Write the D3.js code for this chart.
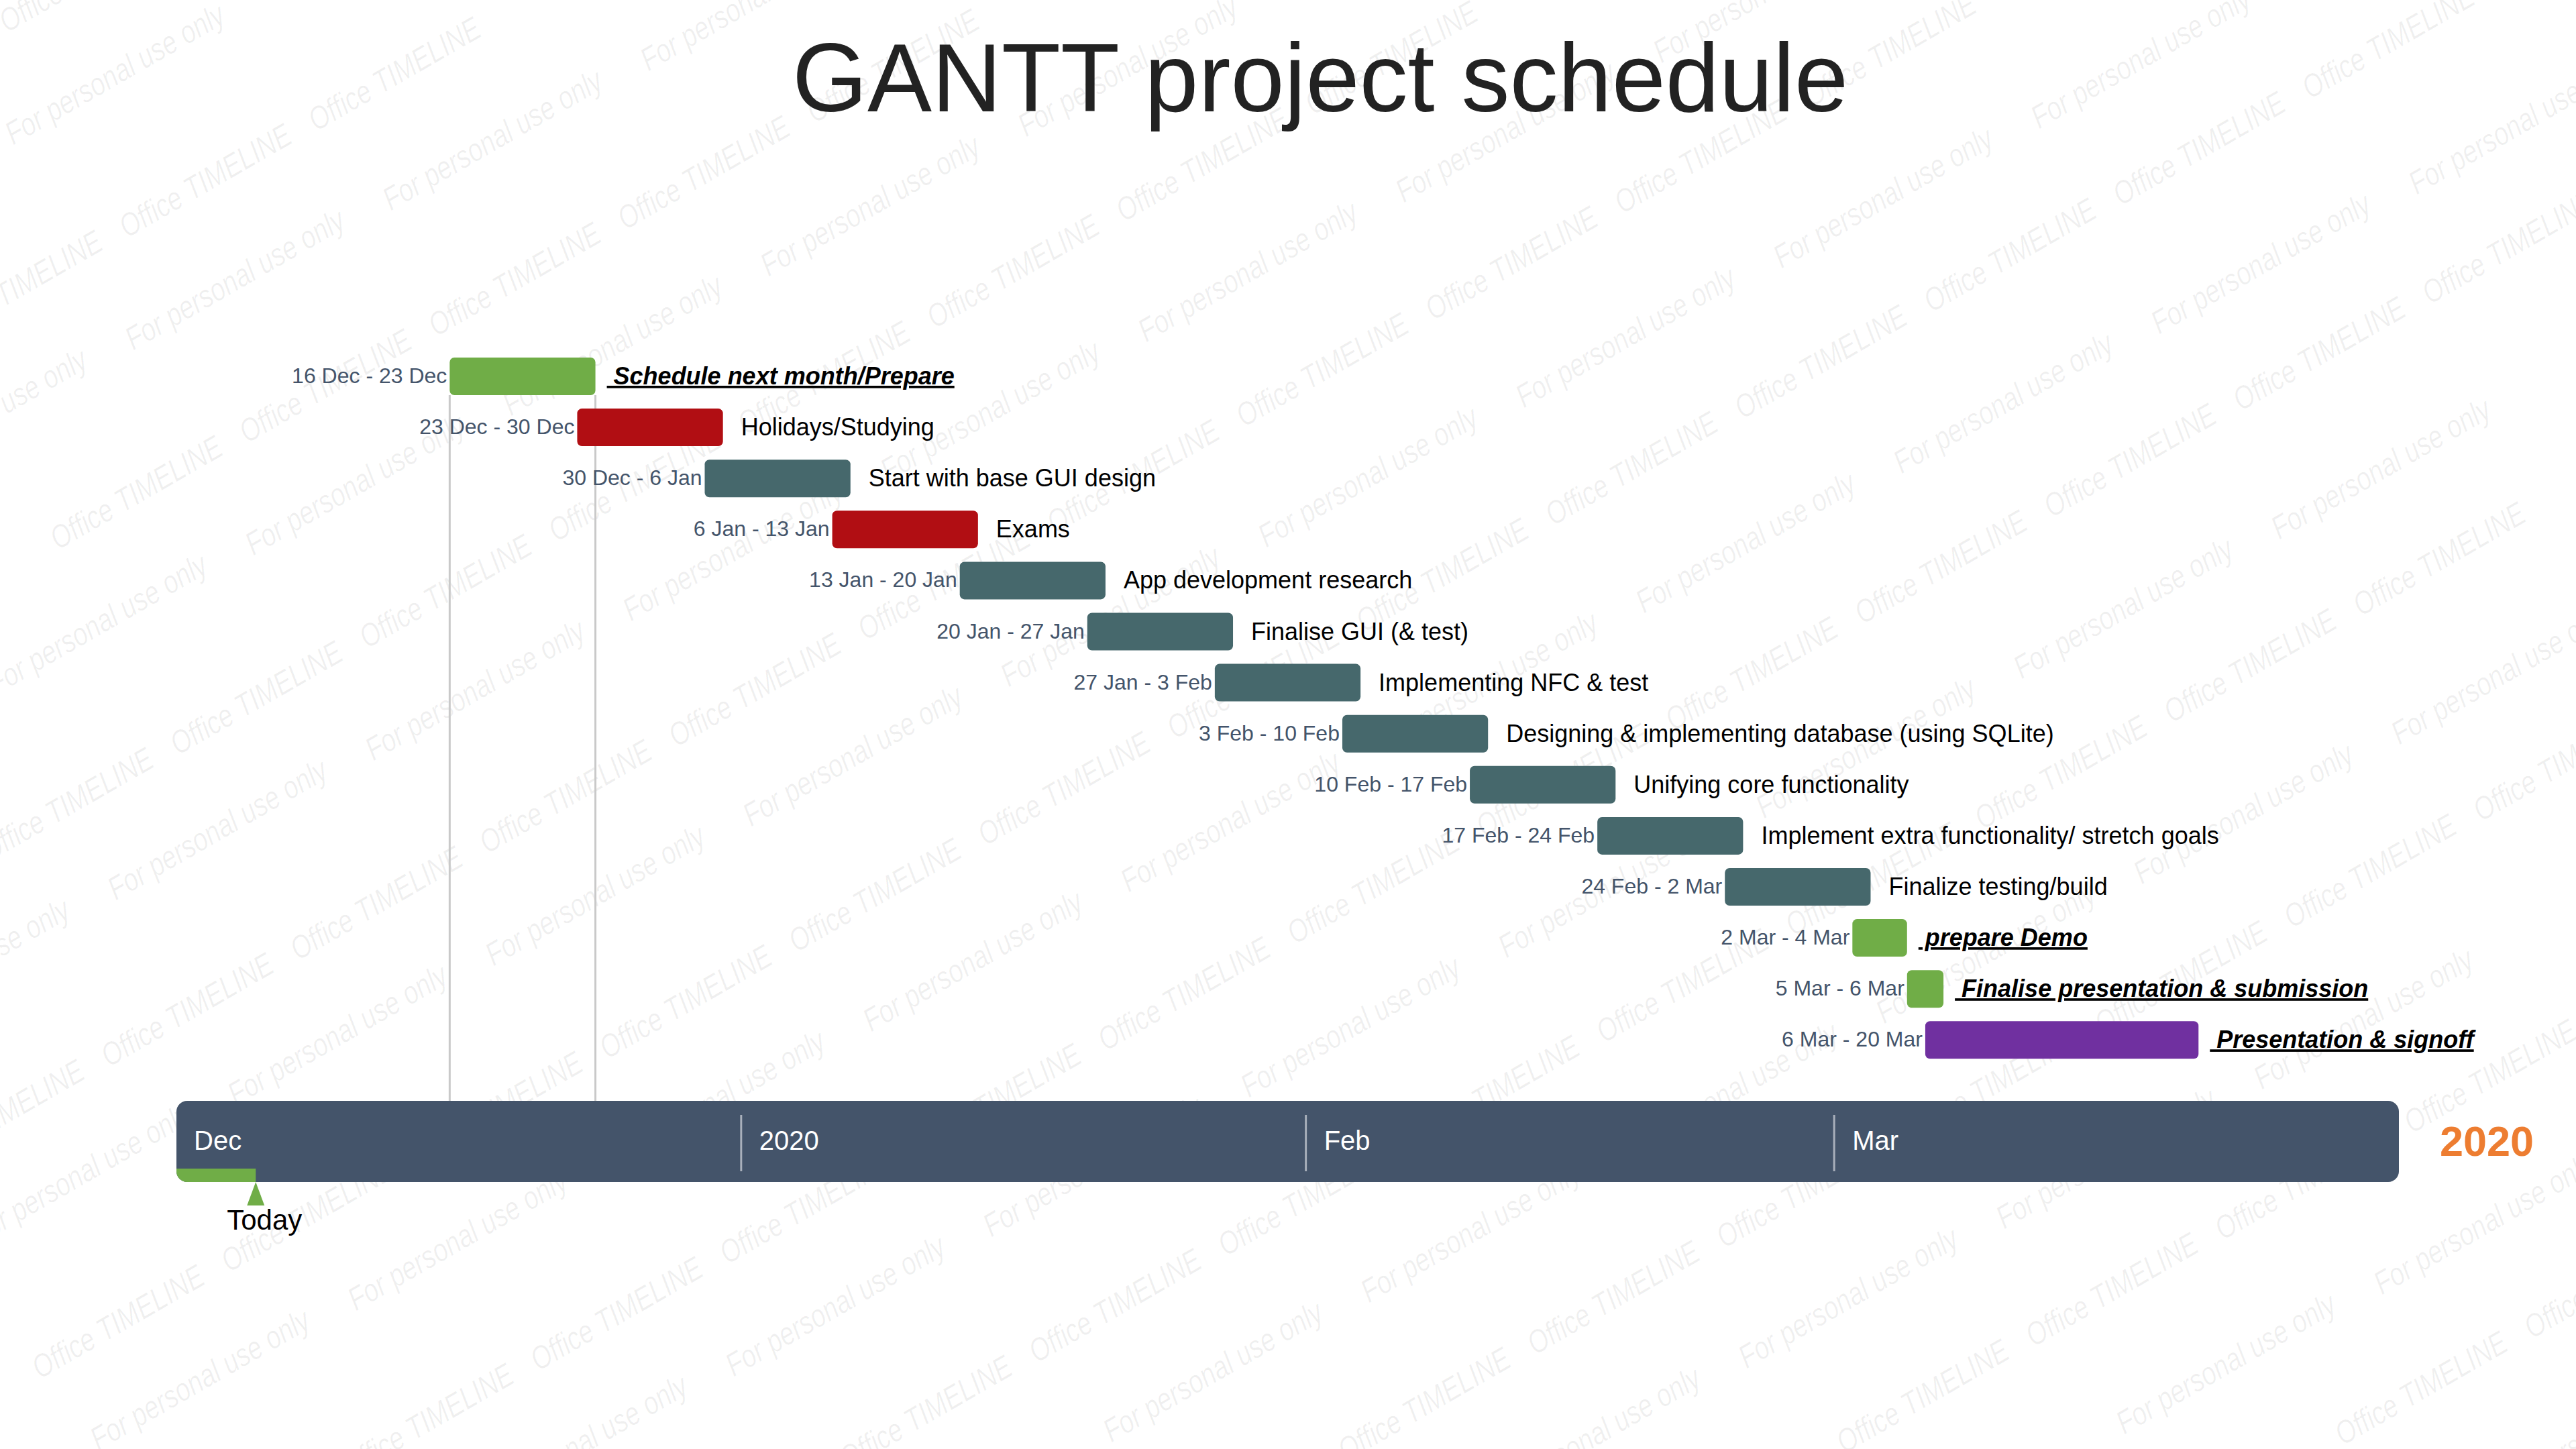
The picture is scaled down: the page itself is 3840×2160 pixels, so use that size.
<!DOCTYPE html>
<html>
<head>
<meta charset="utf-8">
<script src="https://cdn.jsdelivr.net/npm/d3@7"></script>
<style>
  html, body { margin: 0; padding: 0; background: #ffffff; }
  svg { display: block; }
</style>
</head>
<body>
<script>
// ---------- DATA ----------
const taskNames = [
  "Schedule next month/Prepare",
  "Holidays/Studying",
  "Start with base GUI design",
  "Exams",
  "App development research",
  "Finalise GUI (& test)",
  "Implementing NFC & test",
  "Designing & implementing database (using SQLite)",
  "Unifying core functionality",
  "Implement extra functionality/ stretch goals",
  "Finalize testing/build",
  "prepare Demo",
  "Finalise presentation & submission",
  "Presentation & signoff"
];
const taskStarts = [
  "2019-12-16", "2019-12-23", "2019-12-30", "2020-01-06", "2020-01-13",
  "2020-01-20", "2020-01-27", "2020-02-03", "2020-02-10", "2020-02-17",
  "2020-02-24", "2020-03-02", "2020-03-05", "2020-03-06"
];
const taskEnds = [
  "2019-12-23", "2019-12-30", "2020-01-06", "2020-01-13", "2020-01-20",
  "2020-01-27", "2020-02-03", "2020-02-10", "2020-02-17", "2020-02-24",
  "2020-03-02", "2020-03-04", "2020-03-06", "2020-03-20"
];
const taskKinds = [
  "plan", "break", "work", "break", "work",
  "work", "work", "work", "work", "work",
  "work", "plan", "plan", "final"
];
const axisTicks = ["2019-12-01", "2020-01-01", "2020-02-01", "2020-03-01"];
const axisTickLabels = ["Dec", "2020", "Feb", "Mar"];
const axisDomain = ["2019-12-01", "2020-04-01"];
const todayDate = "2019-12-05T08:30";
const yearLabel = "2020";
const titleText = "GANTT project schedule";
const watermarkTexts = ["For personal use only", "Office TIMELINE"];

// ---------- STYLE ----------
const W = 3840, H = 2160;
const kindColor = { plan: "#70AD47", break: "#B10E13", work: "#46686C", final: "#7030A0" };
const emphasised = { plan: true, break: false, work: false, final: true };
const FONT = "'Liberation Sans', Arial, Helvetica, sans-serif";

const parse = d3.isoParse;
const fmt = d3.timeFormat("%-d %b");

const svg = d3.select("body").append("svg")
  .attr("width", W).attr("height", H)
  .attr("viewBox", `0 0 ${W} ${H}`);

svg.append("rect").attr("width", W).attr("height", H).attr("fill", "#ffffff");

// ---------- WATERMARK (faint diagonal bands) ----------
const wm = svg.append("g").attr("pointer-events", "none");
const band = [179, 306];                 // spacing between bands
const wmSpecs = [
  { text: watermarkTexts[0], origin: [171, 110], step: [384, -208] },
  { text: watermarkTexts[1], origin: [588, 110], step: [282, -159] }
];
wmSpecs.forEach(spec => {
  for (let j = -4; j < 12; j++) {
    for (let i = -12; i < 20; i++) {
      const cx = spec.origin[0] + i * spec.step[0] + j * band[0];
      const cy = spec.origin[1] + i * spec.step[1] + j * band[1];
      if (cx < -60 || cx > W + 60 || cy < -40 || cy > H + 40) continue;
      wm.append("text")
        .attr("transform", `translate(${cx},${cy}) rotate(-30) scale(0.8,1)`)
        .attr("text-anchor", "middle")
        .attr("dominant-baseline", "central")
        .attr("font-family", FONT)
        .attr("font-style", "italic")
        .attr("font-size", 48)
        .attr("fill", "#000")
        .attr("fill-opacity", 0.06)
        .text(spec.text);
    }
  }
});

// ---------- SCALES ----------
const x = d3.scaleTime()
  .domain(axisDomain.map(parse))
  .range([263, 3576]);

const y = d3.scalePoint()
  .domain(d3.range(taskNames.length))
  .range([561, 561 + 76.1 * (taskNames.length - 1)]);

const barH = 56;

const tasks = taskNames.map((name, i) => {
  const s = parse(taskStarts[i]);
  const e = parse(taskEnds[i]);
  return {
    i, name, start: s, end: e, endExcl: d3.timeDay.offset(e, 1),
    kind: taskKinds[i],
    dateLabel: fmt(s) + " - " + fmt(e)
  };
});

// ---------- TITLE ----------
svg.append("text")
  .attr("x", 1968).attr("y", 166)
  .attr("text-anchor", "middle")
  .attr("font-family", FONT)
  .attr("font-size", 144)
  .attr("fill", "#222222")
  .text(titleText);

// ---------- TIMELINE BAR ----------
const tlTop = 1641, tlBot = 1762;
const tl = svg.append("g");

const clip = svg.append("defs").append("clipPath").attr("id", "tlclip");
clip.append("rect")
  .attr("x", x.range()[0]).attr("y", tlTop)
  .attr("width", x.range()[1] - x.range()[0]).attr("height", tlBot - tlTop)
  .attr("rx", 16).attr("ry", 16);

// drop lines for the first task
const first = tasks[0];
[first.start, first.endExcl].forEach(d => {
  svg.append("line")
    .attr("x1", x(d)).attr("x2", x(d))
    .attr("y1", y(0) + barH / 2).attr("y2", tlTop)
    .attr("stroke", "#C9C9C9").attr("stroke-width", 3);
});

tl.append("rect")
  .attr("x", x.range()[0]).attr("y", tlTop)
  .attr("width", x.range()[1] - x.range()[0]).attr("height", tlBot - tlTop)
  .attr("rx", 16).attr("ry", 16)
  .attr("fill", "#44546A");

// today progress strip
const today = parse(todayDate);
tl.append("rect")
  .attr("clip-path", "url(#tlclip)")
  .attr("x", x.range()[0]).attr("y", tlBot - 20)
  .attr("width", x(today) - x.range()[0]).attr("height", 20)
  .attr("fill", "#70AD47");

// month dividers & labels
axisTicks.forEach((t, k) => {
  const tx = x(parse(t));
  if (k > 0) {
    tl.append("line")
      .attr("x1", tx).attr("x2", tx)
      .attr("y1", 1662).attr("y2", 1746)
      .attr("stroke", "#A9B0BB").attr("stroke-width", 3);
  }
  tl.append("text")
    .attr("x", k === 0 ? tx + 26 : tx + 27)
    .attr("y", 1714)
    .attr("font-family", FONT)
    .attr("font-size", 40)
    .attr("fill", "#ffffff")
    .text(axisTickLabels[k]);
});

// year label on the right
svg.append("text")
  .attr("x", x.range()[1] + 61).attr("y", 1723)
  .attr("font-family", FONT)
  .attr("font-weight", "bold")
  .attr("font-size", 63)
  .attr("fill", "#ED7D31")
  .text(yearLabel);

// today marker
const tdx = x(today);
svg.append("path")
  .attr("d", `M${tdx},${tlBot} L${tdx + 13},${tlBot + 35} L${tdx - 13},${tlBot + 35} Z`)
  .attr("fill", "#70AD47");
svg.append("text")
  .attr("x", tdx + 13).attr("y", 1833)
  .attr("text-anchor", "middle")
  .attr("font-family", FONT)
  .attr("font-size", 42)
  .attr("fill", "#000000")
  .text("Today");

// ---------- TASK BARS ----------
const rows = svg.append("g").selectAll("g.row").data(tasks).join("g").attr("class", "row");

rows.append("rect")
  .attr("x", d => x(d.start))
  .attr("y", d => y(d.i) - barH / 2)
  .attr("width", d => x(d.endExcl) - x(d.start))
  .attr("height", barH)
  .attr("rx", 7).attr("ry", 7)
  .attr("fill", d => kindColor[d.kind]);

rows.append("text")
  .attr("x", d => x(d.start) - 4)
  .attr("y", d => y(d.i) + 10)
  .attr("text-anchor", "end")
  .attr("font-family", FONT)
  .attr("font-size", 32)
  .attr("fill", "#44546A")
  .text(d => d.dateLabel);

rows.append("text")
  .attr("x", d => x(d.endExcl) + 17)
  .attr("y", d => y(d.i) + 12)
  .attr("font-family", FONT)
  .attr("font-size", 36)
  .attr("fill", "#000000")
  .attr("font-weight", d => emphasised[d.kind] ? "bold" : "normal")
  .attr("font-style", d => emphasised[d.kind] ? "italic" : "normal")
  .style("text-decoration", d => emphasised[d.kind] ? "underline" : "none")
  .text(d => "\u00a0" + d.name);
</script>
</body>
</html>
